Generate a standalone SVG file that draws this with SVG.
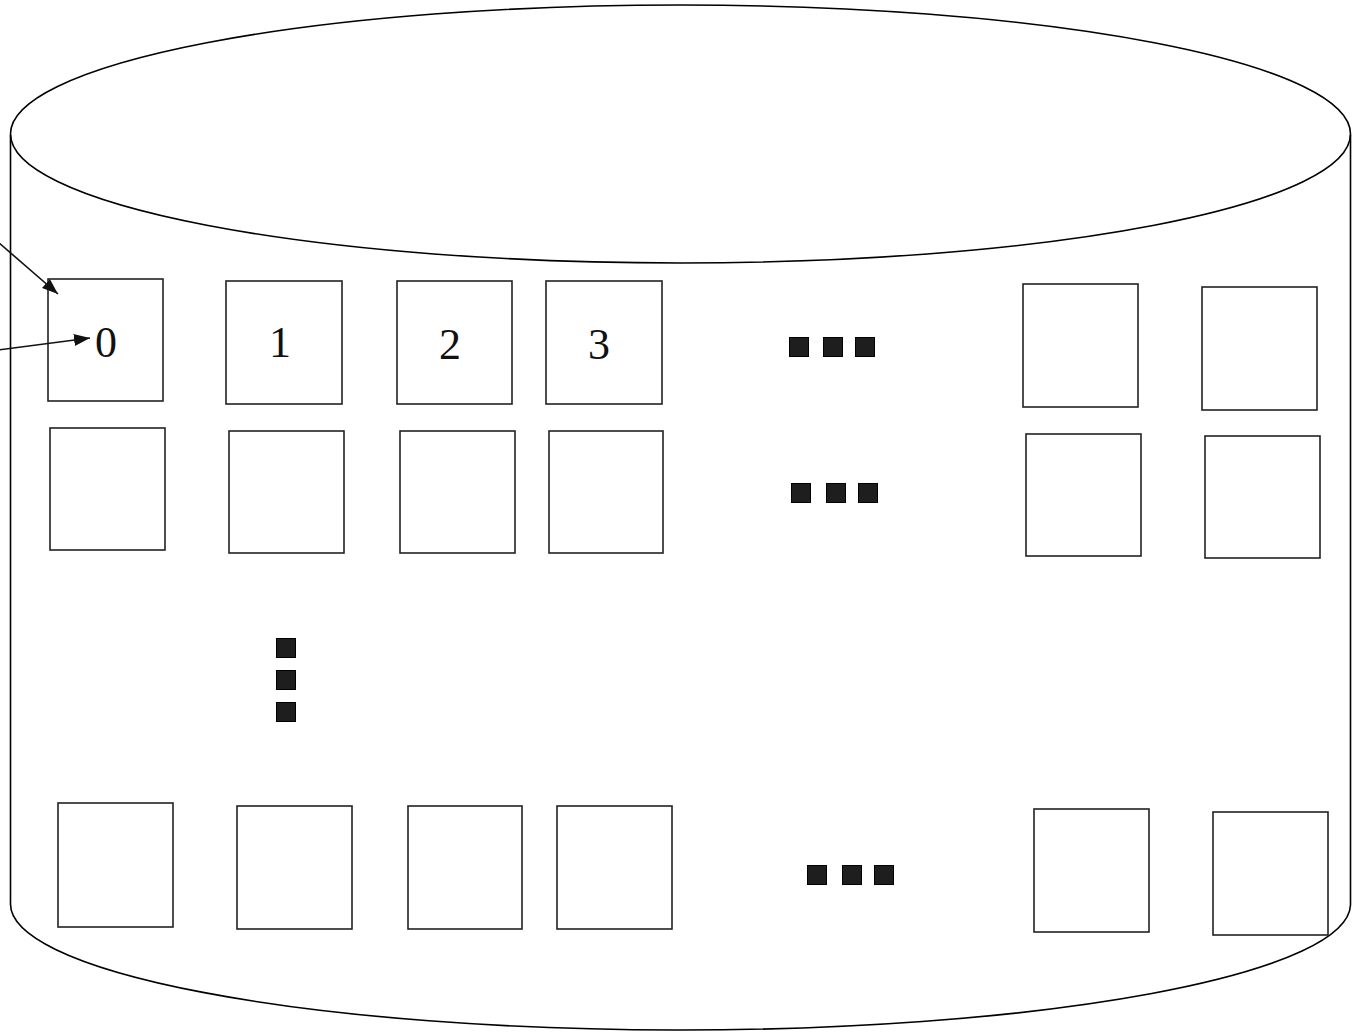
<svg xmlns="http://www.w3.org/2000/svg" width="1352" height="1033" viewBox="0 0 1352 1033">
<style>
.cyl{fill:none;stroke:#000;stroke-width:1.6}
.box{fill:#fff;stroke:#222;stroke-width:1.6}
.dot{fill:#1e1e1e;stroke:#000;stroke-width:1}
.lbl{font-family:"Liberation Serif","Times New Roman",serif;font-size:44px;fill:#111;text-anchor:middle}
.conn{stroke:#111;stroke-width:1.6;fill:none}
</style>
<defs>
<marker id="ah" viewBox="0 0 10 10" refX="10" refY="5" markerWidth="10" markerHeight="10" markerUnits="userSpaceOnUse" orient="auto">
<path d="M0,0 L10,5 L0,10 Z" fill="#111"/>
</marker>
<marker id="ah2" viewBox="0 0 16 12" refX="16" refY="6" markerWidth="16" markerHeight="12" markerUnits="userSpaceOnUse" orient="auto">
<path d="M0,0 L16,6 L0,12 Z" fill="#111"/>
</marker>
</defs>
<g id="cylinder">
<rect x="0" y="0" width="1352" height="1033" fill="#fff"/>
<path class="cyl" d="M10.5,135 L10.5,903 A670,126 0 0 0 1350.5,905 L1350.5,135"/>
<ellipse class="cyl" cx="680.5" cy="134" rx="670" ry="129"/>
</g>
<g id="row1">
<g id="b0"><rect class="box" x="48" y="279" width="115" height="122"/><text class="lbl" x="106" y="357">0</text></g>
<g id="b1"><rect class="box" x="226" y="281" width="116" height="123"/><text class="lbl" x="280" y="357">1</text></g>
<g id="b2"><rect class="box" x="397" y="281" width="115" height="123"/><text class="lbl" x="450" y="359">2</text></g>
<g id="b3"><rect class="box" x="546" y="281" width="116" height="123"/><text class="lbl" x="599" y="359">3</text></g>
<g id="b4"><rect class="box" x="1023" y="284" width="115" height="123"/></g>
<g id="b5"><rect class="box" x="1202" y="287" width="115" height="123"/></g>
</g>
<g id="row2">
<g id="c0"><rect class="box" x="50" y="428" width="115" height="122"/></g>
<g id="c1"><rect class="box" x="229" y="431" width="115" height="122"/></g>
<g id="c2"><rect class="box" x="400" y="431" width="115" height="122"/></g>
<g id="c3"><rect class="box" x="549" y="431" width="114" height="122"/></g>
<g id="c4"><rect class="box" x="1026" y="434" width="115" height="122"/></g>
<g id="c5"><rect class="box" x="1205" y="436" width="115" height="122"/></g>
</g>
<g id="row3">
<g id="d0"><rect class="box" x="58" y="803" width="115" height="124"/></g>
<g id="d1"><rect class="box" x="237" y="806" width="115" height="123"/></g>
<g id="d2"><rect class="box" x="408" y="806" width="114" height="123"/></g>
<g id="d3"><rect class="box" x="557" y="806" width="115" height="123"/></g>
<g id="d4"><rect class="box" x="1034" y="809" width="115" height="123"/></g>
<g id="d5"><rect class="box" x="1213" y="812" width="115" height="123"/></g>
</g>
<g id="ellipsis">
<rect class="dot" x="789.5" y="337.5" width="19" height="19"/>
<rect class="dot" x="823.5" y="337.5" width="19" height="19"/>
<rect class="dot" x="855.5" y="337.5" width="19" height="19"/>
<rect class="dot" x="791.5" y="483.5" width="19" height="19"/>
<rect class="dot" x="826.5" y="483.5" width="19" height="19"/>
<rect class="dot" x="858.5" y="483.5" width="19" height="19"/>
<rect class="dot" x="807.5" y="865.5" width="19" height="19"/>
<rect class="dot" x="842.5" y="865.5" width="19" height="19"/>
<rect class="dot" x="874.5" y="865.5" width="19" height="19"/>
<rect class="dot" x="276.5" y="638.5" width="19" height="19"/>
<rect class="dot" x="276.5" y="670.5" width="19" height="19"/>
<rect class="dot" x="276.5" y="702.5" width="19" height="19"/>
</g>
<g id="connectors">
<line class="conn" x1="-2" y1="242" x2="58" y2="294" marker-end="url(#ah2)"/>
<line class="conn" x1="-2" y1="350" x2="90" y2="338" marker-end="url(#ah2)"/>
</g>
</svg>
